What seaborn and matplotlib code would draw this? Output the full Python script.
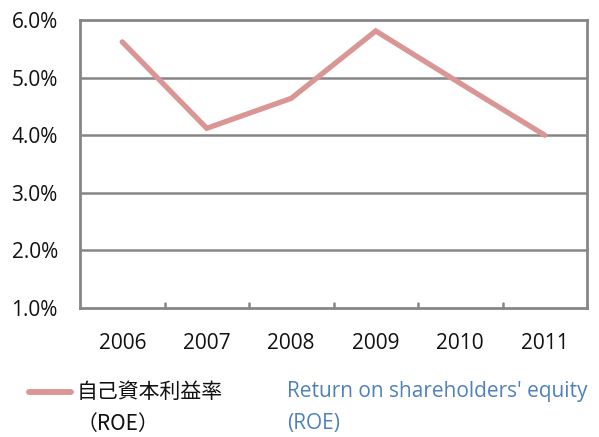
import matplotlib
matplotlib.use("Agg")
import matplotlib.pyplot as plt
from matplotlib.lines import Line2D
import seaborn as sns
import pandas as pd

years = ["2006", "2007", "2008", "2009", "2010", "2011"]
roe = [5.62, 4.12, 4.64, 5.81, 4.90, 4.00]
y_ticks = [1.0, 2.0, 3.0, 4.0, 5.0, 6.0]

line_color = "#D99694"
frame_color = "#868686"
blue = "#4F81BD"
fs = 15

sns.set_theme(style="white")
plt.rcParams["font.family"] = ["Open Sans", "Noto Sans CJK JP", "DejaVu Sans"]

df = pd.DataFrame({"pos": range(len(years)), "year": years, "roe": roe})

fig = plt.figure(figsize=(5.99, 4.37), dpi=100)
ax = fig.add_axes([80 / 599, 1 - 308 / 437, 507 / 599, 288 / 437])

sns.lineplot(data=df, x="pos", y="roe", ax=ax, color=line_color,
             linewidth=3.8, solid_capstyle="round", solid_joinstyle="miter",
             legend=False, zorder=3)

ax.set_xlim(-0.5, len(years) - 0.5)
ax.set_ylim(y_ticks[0], y_ticks[-1])
ax.set_yticks(y_ticks)
ax.set_yticklabels([f"{v:.1f}%" for v in y_ticks], fontsize=fs, color="#111111")
ax.set_xticks(range(len(years)))
ax.set_xticklabels(years, fontsize=fs, color="#111111")
ax.set_xlabel("")
ax.set_ylabel("")

# horizontal gridlines
for v in y_ticks[1:-1]:
    ax.axhline(v, color=frame_color, linewidth=1.8, zorder=1)

for s in ax.spines.values():
    s.set_color(frame_color)
    s.set_linewidth(2.0)
    s.set_visible(True)

ax.tick_params(axis="y", length=0, pad=16)
ax.tick_params(axis="x", length=0, pad=18)

# inward category boundary ticks on the bottom axis
for b in range(1, len(years)):
    ax.plot([b - 0.5, b - 0.5], [y_ticks[0], y_ticks[0] + 0.09],
            color=frame_color, linewidth=1.8, zorder=2, clip_on=False)

# legend
fig.add_artist(Line2D([29 / 599, 71 / 599], [1 - 392 / 437, 1 - 392 / 437],
                      color=line_color, linewidth=4.2, solid_capstyle="round",
                      transform=fig.transFigure))
cjk = ["Noto Sans CJK JP", "DejaVu Sans"]
fig.text(77 / 599, 1 - 392 / 437, "自己資本利益率", fontsize=15,
         family=cjk, va="center", ha="left", color="#111111")
fig.text(77 / 599, 1 - 424 / 437, "（ROE）", fontsize=15,
         family=cjk, va="center", ha="left", color="#111111")
fig.text(287 / 599, 1 - 392 / 437, "Return on shareholders' equity", fontsize=fs,
         va="center", ha="left", color=blue)
fig.text(287 / 599, 1 - 424 / 437, "(ROE)", fontsize=fs,
         va="center", ha="left", color=blue)

fig.savefig("out.png", dpi=100)
